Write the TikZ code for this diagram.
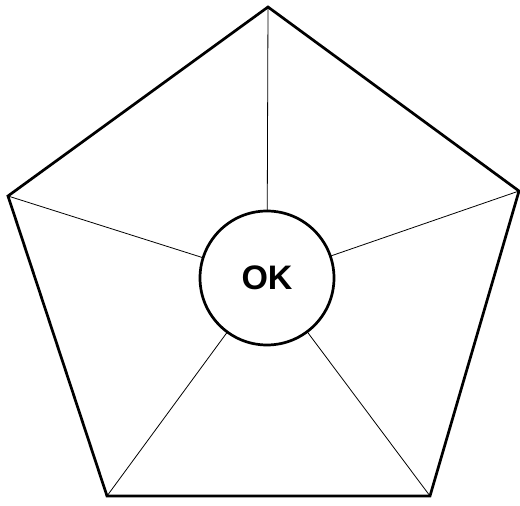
\documentclass[tikz,border=0pt]{standalone}
\usepackage{fontspec}
\setmainfont{Liberation Sans}
\begin{document}
\begin{tikzpicture}[x=1pt,y=1pt,
  outline/.style={draw=black,line width=2.7pt,line join=miter},
  spoke/.style={draw=black,line width=0.8pt},
  hub/.style={circle,draw=black,line width=2.7pt,fill=white,minimum size=134pt,inner sep=0pt,font=\bfseries\fontsize{34}{40}\selectfont}]
\useasboundingbox (0,0) rectangle (520,506);
\coordinate (t) at (268,499);
\coordinate (r) at (519,315);
\coordinate (br) at (430,10);
\coordinate (bl) at (107,10);
\coordinate (l) at (8,310);
\coordinate (c) at (267,228);
\draw[outline] (t) -- (r) -- (br) -- (bl) -- (l) -- cycle;
\foreach \v in {t,r,br,bl,l} \draw[spoke] (c) -- (\v);
\node[hub] (ok) at (c) {OK};
\end{tikzpicture}
\end{document}
